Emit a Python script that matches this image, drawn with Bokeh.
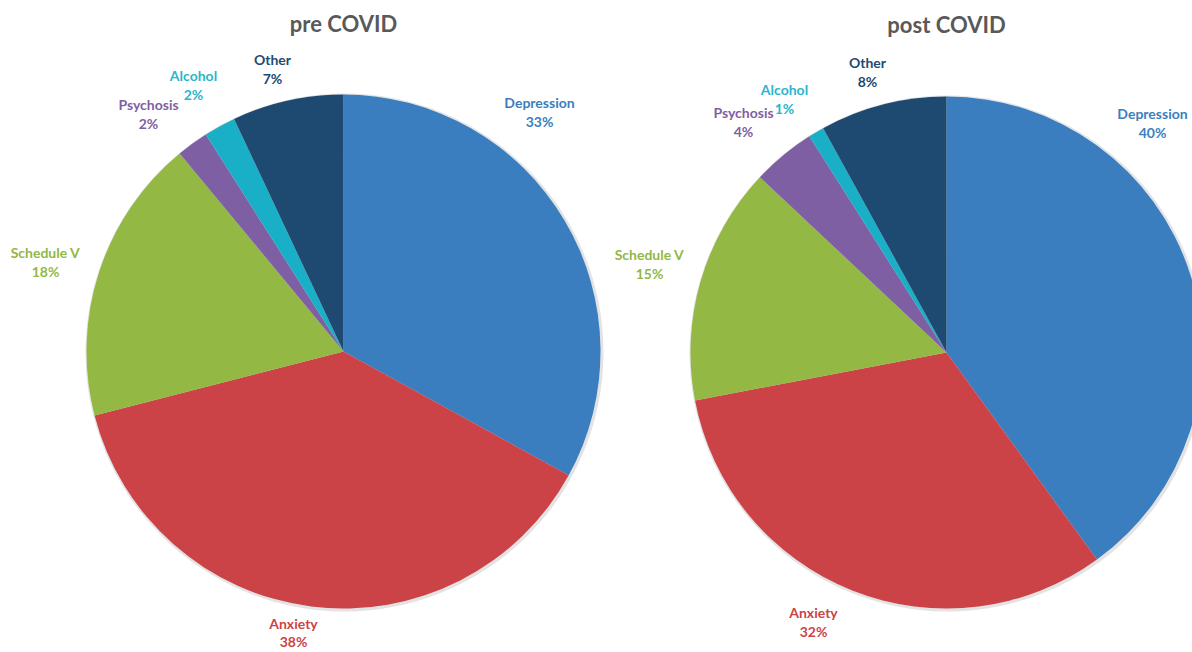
import math
from bokeh.plotting import figure
from bokeh.models import Range1d, ColumnDataSource
from bokeh.core.properties import value
from bokeh.embed import file_html
from bokeh.resources import INLINE

# ---------------- data ----------------
categories = ["Depression", "Anxiety", "Schedule V", "Psychosis", "Alcohol", "Other"]
pre_covid = [33, 38, 18, 2, 2, 7]
post_covid = [40, 32, 15, 4, 1, 8]
titles = ["pre COVID", "post COVID"]

# ---------------- styles ----------------
slice_colors = ["#3A7EC0", "#CB4346", "#93B844", "#7F5FA3", "#19AFC7", "#1E4A72"]
label_colors = ["#3A7EC0", "#CB4346", "#93B844", "#7F5FA3", "#2BB6CA", "#1E4A72"]
FONT = "Lato"

W, H = 1192, 652


def sy(y):
    # screen y (pixels from top) -> data y
    return H - y


# layout: pie centres / radius in pixels
pies = [
    dict(cx=343, cy=351, r=257, title_y=23),
    dict(cx=946, cy=352, r=256, title_y=24),
]
# layout: label anchors (pixels) for the name line of each category
label_pos = [
    [(539, 102), (293, 623), (45, 252), (148, 104), (193, 75), (272, 59)],
    [(1152, 113), (813, 612), (649, 254), (743, 112), (784, 89), (867, 62)],
]
# layout: gap between name line and percentage line
line_gaps = [
    [19, 18, 19, 19, 19, 19],
    [19, 19, 19, 19, 19, 19],
]

p = figure(width=W, height=H,
           x_range=Range1d(0, W), y_range=Range1d(0, H),
           output_backend="svg", toolbar_location=None, min_border=0)
p.axis.visible = False
p.grid.visible = False
p.outline_line_color = None
p.background_fill_color = "white"
p.border_fill_color = "white"

for k, values in enumerate([pre_covid, post_covid]):
    pie = pies[k]
    total = float(sum(values))
    starts, ends = [], []
    cum = 0.0
    for v in values:
        starts.append(math.pi / 2 - 2 * math.pi * cum / total)
        cum += v
        ends.append(math.pi / 2 - 2 * math.pi * cum / total)

    # soft edge shadow
    p.circle(x=[pie["cx"] + 1], y=[sy(pie["cy"]) - 1], radius=pie["r"] + 2,
             fill_color="#7f7f7f", fill_alpha=0.22, line_color=None)

    src = ColumnDataSource(dict(
        x=[pie["cx"]] * len(values), y=[sy(pie["cy"])] * len(values),
        start=starts, end=ends, color=slice_colors, cat=categories, val=values))
    p.wedge(x="x", y="y", radius=pie["r"], start_angle="start", end_angle="end",
            direction="clock", fill_color="color", line_color=None, source=src)

    # labels
    lx = [pos[0] for pos in label_pos[k]]
    ly1 = [sy(pos[1]) for pos in label_pos[k]]
    ly2 = [sy(pos[1] + g) for pos, g in zip(label_pos[k], line_gaps[k])]
    lsrc = ColumnDataSource(dict(
        x=lx, y1=ly1, y2=ly2, name=categories,
        pct=[f"{v}%" for v in values], color=label_colors))
    p.text(x="x", y="y1", text="name", text_color="color", source=lsrc,
           text_font=value(FONT), text_font_style="bold", text_font_size="14px",
           text_align="center", text_baseline="middle")
    p.text(x="x", y="y2", text="pct", text_color="color", source=lsrc,
           text_font=value(FONT), text_font_style="bold", text_font_size="14px",
           text_align="center", text_baseline="middle")

    # title
    p.text(x=[pie["cx"]], y=[sy(pie["title_y"])], text=[titles[k]],
           text_color="#595959", text_font=value(FONT), text_font_style="bold",
           text_font_size="22px", text_align="center", text_baseline="middle")

open("out.html", "w").write(file_html(p, INLINE))
